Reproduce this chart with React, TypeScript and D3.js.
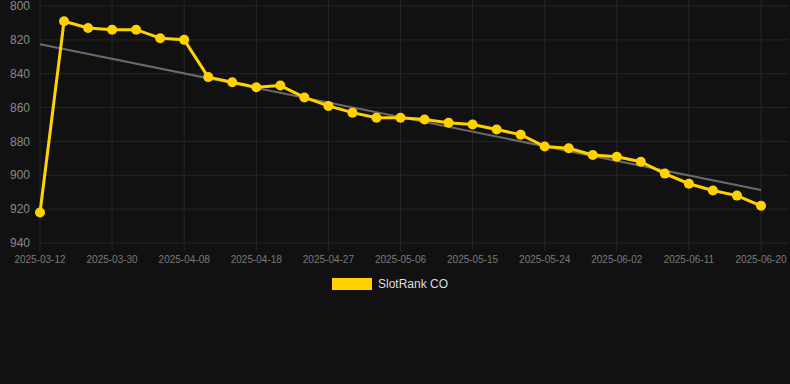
import React, { useEffect } from "react";
import * as d3 from "d3";

const categories = [
  "2025-03-12", "2025-03-18", "2025-03-24", "2025-03-30", "2025-04-02", "2025-04-05",
  "2025-04-08", "2025-04-11", "2025-04-15", "2025-04-18", "2025-04-21", "2025-04-24",
  "2025-04-27", "2025-04-30", "2025-05-03", "2025-05-06", "2025-05-09", "2025-05-12",
  "2025-05-15", "2025-05-18", "2025-05-21", "2025-05-24", "2025-05-27", "2025-05-30",
  "2025-06-02", "2025-06-05", "2025-06-08", "2025-06-11", "2025-06-14", "2025-06-17",
  "2025-06-20",
];
const rankValues = [
  922, 809, 813, 814, 814, 819, 820, 842, 845, 848, 847, 854, 859, 863, 866, 866,
  867, 869, 870, 873, 876, 883, 884, 888, 889, 892, 899, 905, 909, 912, 918,
];
const yTicks = [800, 820, 840, 860, 880, 900, 920, 940];
const seriesName = "SlotRank CO";

export default function App() {
  useEffect(() => {
    document.body.style.margin = "0";
    document.body.style.background = "#111111";
  }, []);

  const W = 790, H = 384;
  const left = 40, right = 761, top = 6, bottom = 243;
  const x = d3.scalePoint<string>().domain(categories).range([left, right]);
  const y = d3.scaleLinear().domain([800, 940]).range([top, bottom]);

  // linear regression trend
  const n = rankValues.length;
  const mx = (n - 1) / 2;
  const my = d3.mean(rankValues) as number;
  let num = 0, den = 0;
  rankValues.forEach((v, i) => { num += (i - mx) * (v - my); den += (i - mx) * (i - mx); });
  const slope = num / den;
  const icpt = my - slope * mx;
  const trend = [0, n - 1].map((i) => ({ c: categories[i], v: icpt + slope * i }));

  const line = d3.line<number>().x((_, i) => x(categories[i]) as number).y((v) => y(v));
  const tline = d3.line<{ c: string; v: number }>().x((d) => x(d.c) as number).y((d) => y(d.v));

  const labelled = categories.filter((_, i) => i % 3 === 0);
  const font = "Helvetica, Arial, 'Liberation Sans', sans-serif";

  return (
    <svg width={W} height={H} style={{ display: "block", background: "#111111" }}>
      <rect width={W} height={H} fill="#111111" />
      {yTicks.map((t) => (
        <g key={t}>
          <line x1={left} x2={right + 28} y1={y(t)} y2={y(t)} stroke="#262626" strokeWidth={1} />
          <text x={30} y={y(t)} dy="0.35em" textAnchor="end" fill="#8a8a8a" fontSize={12} fontFamily={font}>{t}</text>
        </g>
      ))}
      {labelled.map((c) => (
        <g key={c}>
          <line x1={x(c)} x2={x(c)} y1={0} y2={bottom + 8} stroke="#262626" strokeWidth={1} />
          <text x={x(c)} y={259} dy="0.35em" textAnchor="middle" fill="#7a7a7a" fontSize={10} fontFamily={font}>{c}</text>
        </g>
      ))}
      <path d={tline(trend) as string} fill="none" stroke="#6b6b6b" strokeWidth={2} />
      <path d={line(rankValues) as string} fill="none" stroke="#FFD200" strokeWidth={3} strokeLinejoin="round" />
      {rankValues.map((v, i) => (
        <circle key={i} cx={x(categories[i])} cy={y(v)} r={5} fill="#FFD200" />
      ))}
      <rect x={332} y={278} width={40} height={12} fill="#FFD200" />
      <text x={378} y={284} dy="0.35em" fill="#dddddd" fontSize={12} fontFamily={font}>{seriesName}</text>
    </svg>
  );
}
